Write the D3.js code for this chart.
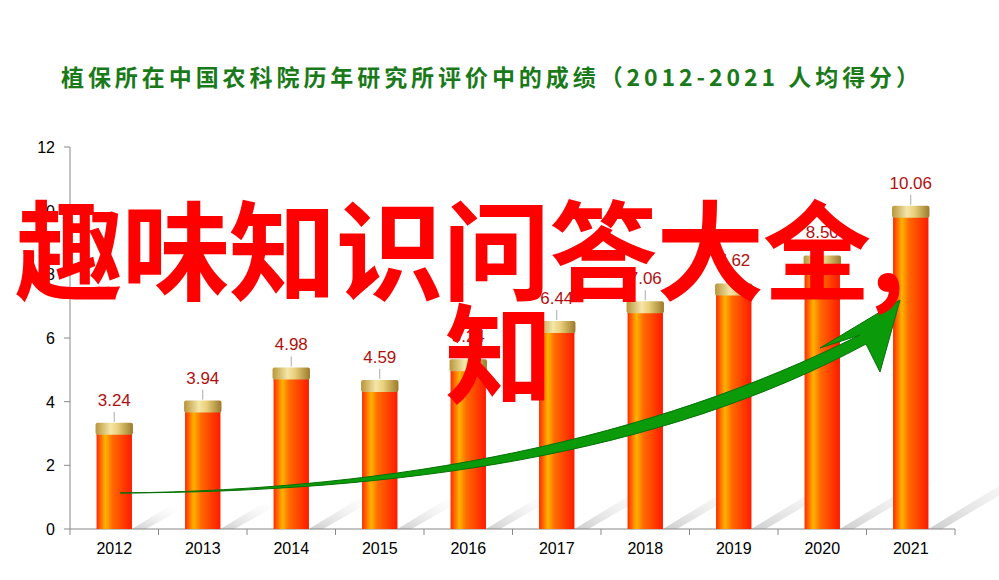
<!DOCTYPE html><html><head><meta charset="utf-8"><script src="https://cdn.jsdelivr.net/npm/d3@7"></script>
<style>body{margin:0;background:#fff}</style></head><body><svg id="c" width="999" height="580"></svg>
<script>
const years=["2012","2013","2014","2015","2016","2017","2018","2019","2020","2021"];
const values=[3.24,3.94,4.98,4.59,5.24,6.44,7.06,7.62,8.50,10.06];
const yTicks=[0,2,4,6,8,10,12];
const svg=d3.select("#c");
const font="Arial, 'Liberation Sans', sans-serif";
const x=d3.scaleBand().domain(years).range([70,955]).paddingInner(0.6).paddingOuter(0.3);
const y=d3.scaleLinear().domain([0,12]).range([529,147]);
const defs=svg.append("defs");
const g1=defs.append("linearGradient").attr("id","bar");
[["0%","#ff2a00"],["25%","#ffb300"],["45%","#ff6a00"],["100%","#ff1a00"]].forEach(s=>g1.append("stop").attr("offset",s[0]).attr("stop-color",s[1]));
const g2=defs.append("linearGradient").attr("id","cap");
[["0%","#b8963a"],["40%","#f5e6a8"],["60%","#e8cf7a"],["100%","#9c7a2a"]].forEach(s=>g2.append("stop").attr("offset",s[0]).attr("stop-color",s[1]));
const g3=defs.append("linearGradient").attr("id","sh").attr("x1","0").attr("y1","1").attr("x2","1").attr("y2","0");
[["0%","#c8c8c8",0.9],["100%","#fff",0]].forEach(s=>g3.append("stop").attr("offset",s[0]).attr("stop-color",s[1]).attr("stop-opacity",s[2]));
svg.append("text").attr("x",490).attr("y",86).attr("text-anchor","middle").attr("font-family","'Noto Sans CJK SC',sans-serif").attr("font-weight","bold").attr("font-size",23).attr("fill","#1a7a1a").attr("textLength",858).text("植保所在中国农科院历年研究所评价中的成绩（2012-2021  人均得分）");
years.forEach((yr,i)=>{const bx=x(yr)+x.bandwidth();const h=(529-y(values[i]))*0.4;
svg.append("path").attr("d",`M${bx},529 L${bx+h*0.9},${529-h*0.55} L${bx+h*0.9+18},${529-h*0.55} L${bx+14},529Z`).attr("fill","url(#sh)");});
svg.append("line").attr("x1",70).attr("x2",70).attr("y1",147).attr("y2",529).attr("stroke","#888");
svg.append("line").attr("x1",70).attr("x2",955).attr("y1",529).attr("y2",529).attr("stroke","#888");
yTicks.forEach(t=>{svg.append("line").attr("x1",64).attr("x2",70).attr("y1",y(t)).attr("y2",y(t)).attr("stroke","#888");
svg.append("text").attr("x",55).attr("y",y(t)+6).attr("text-anchor","end").attr("font-family",font).attr("font-size",16).text(t);});
years.forEach((yr,i)=>{const cx=x(yr)+x.bandwidth()/2;
svg.append("line").attr("x1",cx-x.step()/2).attr("x2",cx-x.step()/2).attr("y1",529).attr("y2",535).attr("stroke","#888");
svg.append("text").attr("x",cx).attr("y",554).attr("text-anchor","middle").attr("font-family",font).attr("font-size",16).text(yr);
const top=y(values[i]);
svg.append("rect").attr("x",x(yr)).attr("width",x.bandwidth()).attr("y",top).attr("height",529-top).attr("fill","url(#bar)");
svg.append("rect").attr("x",x(yr)-1).attr("width",x.bandwidth()+2).attr("y",top-3).attr("height",12).attr("rx",2).attr("fill","url(#cap)");
svg.append("line").attr("x1",cx).attr("x2",cx).attr("y1",top-4).attr("y2",top-14).attr("stroke","#aaa");
svg.append("text").attr("x",cx).attr("y",top-20).attr("text-anchor","middle").attr("font-family",font).attr("font-size",17).attr("fill","#b01010").text(values[i].toFixed(2));});
svg.append("line").attr("x1",955).attr("x2",955).attr("y1",529).attr("y2",535).attr("stroke","#888");
svg.append("path").attr("d","M120,493 C400,490 650,440 860,335 L820,348 L900,300 L880,372 L866,344 C660,455 400,492 120,493Z").attr("fill","#0a9a0a").attr("stroke","#067006").attr("stroke-width",1);
const cj="'Noto Sans CJK SC',sans-serif";
svg.append("text").attr("x",15).attr("y",292).attr("font-family",cj).attr("font-weight","bold").attr("font-size",108).attr("fill","#ff0000").attr("textLength",890).text("趣味知识问答大全,");
svg.append("text").attr("x",445).attr("y",395).attr("font-family",cj).attr("font-weight","bold").attr("font-size",108).attr("fill","#ff0000").text("知");
</script></body></html>
